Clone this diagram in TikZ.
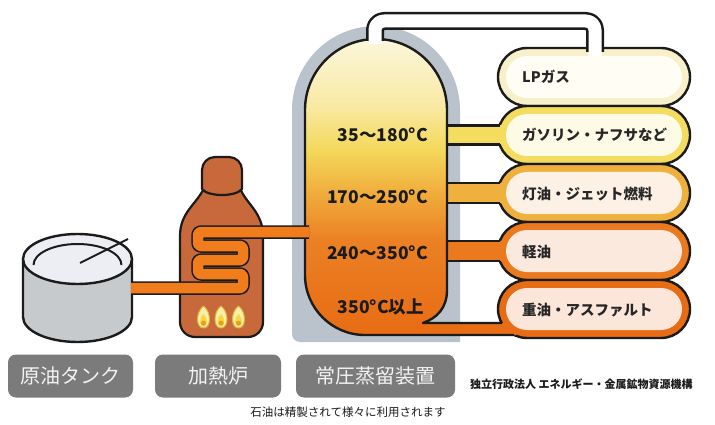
\documentclass[tikz,border=0pt]{standalone}
\usepackage{fontspec}
\setmainfont{Noto Sans CJK JP}
\usetikzlibrary{calc}

\definecolor{ink}{HTML}{1B1B1B}
\definecolor{shadowgray}{HTML}{BAC2CB}
\definecolor{tw0}{HTML}{FCF6DC}
\definecolor{tw1}{HTML}{F8EAA4}
\definecolor{tw2}{HTML}{F4D85A}
\definecolor{tw3}{HTML}{F0AA3A}
\definecolor{tw4}{HTML}{EB8024}
\definecolor{tw5}{HTML}{E86C14}
\definecolor{kiln}{HTML}{C8693C}
\definecolor{tubecol}{HTML}{F07C1C}
\definecolor{tankside}{HTML}{C6CACD}
\definecolor{tanktop}{HTML}{ECEEF3}
\definecolor{tagbg}{HTML}{7B7B7B}
\definecolor{tagfg}{HTML}{F2F2F2}
\definecolor{lpring}{HTML}{F8F0CA}
\definecolor{lpin}{HTML}{FFFDF4}
\definecolor{gasring}{HTML}{F4DC5E}
\definecolor{gasin}{HTML}{FDFAE6}
\definecolor{keroring}{HTML}{F0B03E}
\definecolor{keroin}{HTML}{FCF1E4}
\definecolor{lightring}{HTML}{EB7A1E}
\definecolor{lightin}{HTML}{FBE9DD}
\definecolor{heavyring}{HTML}{E86C14}
\definecolor{heavyin}{HTML}{FBE6D9}
\definecolor{labelink}{HTML}{262626}
\definecolor{flameout}{HTML}{F6EFA6}
\definecolor{flameedge}{HTML}{E2B23A}
\definecolor{flamein}{HTML}{F7D64A}
\definecolor{flamecore}{HTML}{EAA015}

% colour of the distillation tower, pale at the top, deep orange at the bottom
\pgfdeclareverticalshading{towergrad}{100bp}{color(0bp)=(tw5); color(25bp)=(tw5); color(41bp)=(tw4); color(48.6bp)=(tw3); color(56.2bp)=(tw2); color(63.8bp)=(tw1); color(75bp)=(tw0); color(100bp)=(tw0)}

\begin{document}
\begin{tikzpicture}[x=1pt,y=-1pt,line join=round,
  inkline/.style={draw=ink,line width=2.4pt},
  fracbox/.style={rectangle,rounded corners=29pt,minimum width=192pt,minimum height=58pt,
    inner sep=0pt,outer sep=0pt,draw=ink,line width=2.4pt},
  boxlabel/.style={anchor=west,font=\bfseries\fontsize{14.5}{15}\selectfont,text=labelink,inner sep=0pt},
  templabel/.style={anchor=east,font=\bfseries\fontsize{17.5}{18}\selectfont,text=ink,inner sep=0pt},
  tag/.style={rectangle,rounded corners=8pt,fill=tagbg,text=tagfg,
    font=\fontsize{20}{21}\selectfont,minimum height=43pt,inner sep=0pt},
  flamebody/.style={fill=flameout,draw=flameedge,line width=1pt},
]
\useasboundingbox (0,0) rectangle (715,425);
\fill[white] (0,0) rectangle (715,425);

% ---- shadow behind the tower
\fill[shadowgray] (292,110) arc[start angle=180,end angle=360,radius=84]
  -- (460,342) -- (300,342) arc[start angle=90,end angle=180,radius=8] -- cycle;

% ---- product boxes (outer ring)
\node[fracbox,fill=lpring]    (lp)    at (594,77)  {};
\node[fracbox,fill=gasring]   (gas)   at (594,135) {};
\node[fracbox,fill=keroring]  (kero)  at (594,193) {};
\node[fracbox,fill=lightring] (light) at (594,251) {};
\node[fracbox,fill=heavyring] (heavy) at (594,309) {};

% ---- tower body, its bottom running into the heavy-oil box
\shade[shading=towergrad] (305,110) arc[start angle=180,end angle=360,radius=71]
  -- (447,290) .. controls (447,308) and (437,318) .. (423,323)
  -- (516,323) -- (516,335) -- (365,335) arc[start angle=90,end angle=180,radius=60] -- cycle;

% ---- side draws from the tower to the boxes
\fill[gasring]   ($(gas.west)+(-53,-9.5)$)   rectangle ($(gas.west)+(8,9.5)$);
\fill[keroring]  ($(kero.west)+(-53,-10)$)   rectangle ($(kero.west)+(8,10)$);
\fill[lightring] ($(light.west)+(-53,-10)$)  rectangle ($(light.west)+(8,10)$);

% ---- tower outline
\draw[inkline] (514,335) -- (365,335) arc[start angle=90,end angle=180,radius=60]
  -- (305,110) arc[start angle=180,end angle=360,radius=71]
  -- (447,290) .. controls (447,308) and (437,318) .. (423,323) -- (502,323);
\foreach \b/\h in {gas/9.5,kero/10,light/10}{
  \draw[inkline] ($(\b.west)+(-51,-\h)$) -- ($(\b.west)+(1.5,-\h)$);
  \draw[inkline] ($(\b.west)+(-51,\h)$) -- ($(\b.west)+(1.5,\h)$);
}

% ---- overhead vapour line to the LP gas box
\coordinate (pipefoot) at (375,41);
\draw[ink,line width=18pt,rounded corners=9pt] (pipefoot) |- ($(lp.north)+(1,-27)$) -- ($(lp.north)+(1,4)$);
\draw[white,line width=13pt,rounded corners=9pt] ($(pipefoot)+(0,3)$) |- ($(lp.north)+(1,-27)$) -- ($(lp.north)+(1,8)$);

% ---- inner faces of the boxes
\foreach \b/\c in {lp/lpin,gas/gasin,kero/keroin,light/lightin,heavy/heavyin}{
  \fill[\c,rounded corners=21pt] ($(\b.south west)+(8,-8)$) rectangle ($(\b.north east)+(-8,8)$);
}

% ---- product names
\node[boxlabel] (lpt)    at (522,77)  {LPガス};
\node[boxlabel] (gast)   at (522,135) {ガソリン・ナフサなど};
\node[boxlabel] (kerot)  at (522,194) {灯油・ジェット燃料};
\node[boxlabel] (lightt) at (522,252) {軽油};
\node[boxlabel] (heavyt) at (522,310) {重油・アスファルト};

% ---- temperature ranges inside the tower
\node[templabel] (t1) at (428,135) {35〜180°C};
\node[templabel] (t2) at (428,197) {170〜250°C};
\node[templabel] (t3) at (428,253) {240〜350°C};
\node[templabel] (t4) at (424,307) {350°C以上};

% ---- crude oil tank
\draw[inkline,fill=tankside] (23,259) -- (23,317) arc[start angle=180,end angle=0,x radius=54.5,y radius=25] -- (132,259) -- cycle;
\draw[inkline,fill=tanktop] (77.5,259) ellipse[x radius=54.5,y radius=25];
\draw[inkline,line width=2pt] (33.5,265) arc[start angle=180,end angle=360,x radius=44,y radius=21];
\draw[inkline,line width=2pt] (80,263) -- (128,239);

% ---- furnace
\draw[inkline,line width=2.2pt,fill=kiln] (204,188) .. controls (197,204) and (180,212) .. (180,236)
  -- (180,322) arc[start angle=180,end angle=90,radius=15]
  -- (248,337) arc[start angle=90,end angle=0,radius=15]
  -- (263,236) .. controls (263,212) and (246,204) .. (240,188) -- cycle;
\draw[inkline,line width=2.2pt,fill=kiln] (202,189) -- (202,170) arc[start angle=180,end angle=270,radius=13]
  -- (229,157) arc[start angle=270,end angle=360,radius=13]
  -- (242,189) .. controls (236,197) and (208,197) .. (202,189) -- cycle;

% burner flames
\foreach \fx in {203.5,221,238.5}{
  \draw[flamebody] (\fx,306) .. controls (\fx+8,312) and (\fx+8,328) .. (\fx,328)
    .. controls (\fx-8,328) and (\fx-8,312) .. (\fx,306) -- cycle;
  \fill[flamein] (\fx,314) .. controls (\fx+4.5,318) and (\fx+4.5,326) .. (\fx,326)
    .. controls (\fx-4.5,326) and (\fx-4.5,318) .. (\fx,314) -- cycle;
  \fill[flamecore] (\fx,323.2) circle[radius=2.6];
}

% ---- heating coil: tank -> furnace -> tower
\coordinate (tankout) at (131,288);
\coordinate (towerin) at (309,232);
\draw[tubecol,line width=10.5pt,rounded corners=3pt,preaction={draw=ink,line width=13.5pt}]
  (tankout) -- (243,288) -- (243,274) -- (198,274) -- (198,260) -- (243,260)
  -- (243,246) -- (198,246) -- (198,232) -- (towerin);

% ---- captions
\node[tag,minimum width=125pt] (tagtank)  at (70.5,376) {原油タンク};
\node[tag,minimum width=126pt] (tagkiln)  at (218,376)  {加熱炉};
\node[tag,minimum width=159pt] (tagtower) at (375.5,376) {常圧蒸留装置};
\node[font=\fontsize{11.5}{12}\selectfont,text=ink,inner sep=0pt] (note) at (348,412) {石油は精製されて様々に利用されます};
\node[anchor=west,font=\bfseries\fontsize{11}{12}\selectfont,text=ink,inner sep=0pt] (org) at (470,384) {独立行政法人 エネルギー・金属鉱物資源機構};
\end{tikzpicture}
\end{document}
